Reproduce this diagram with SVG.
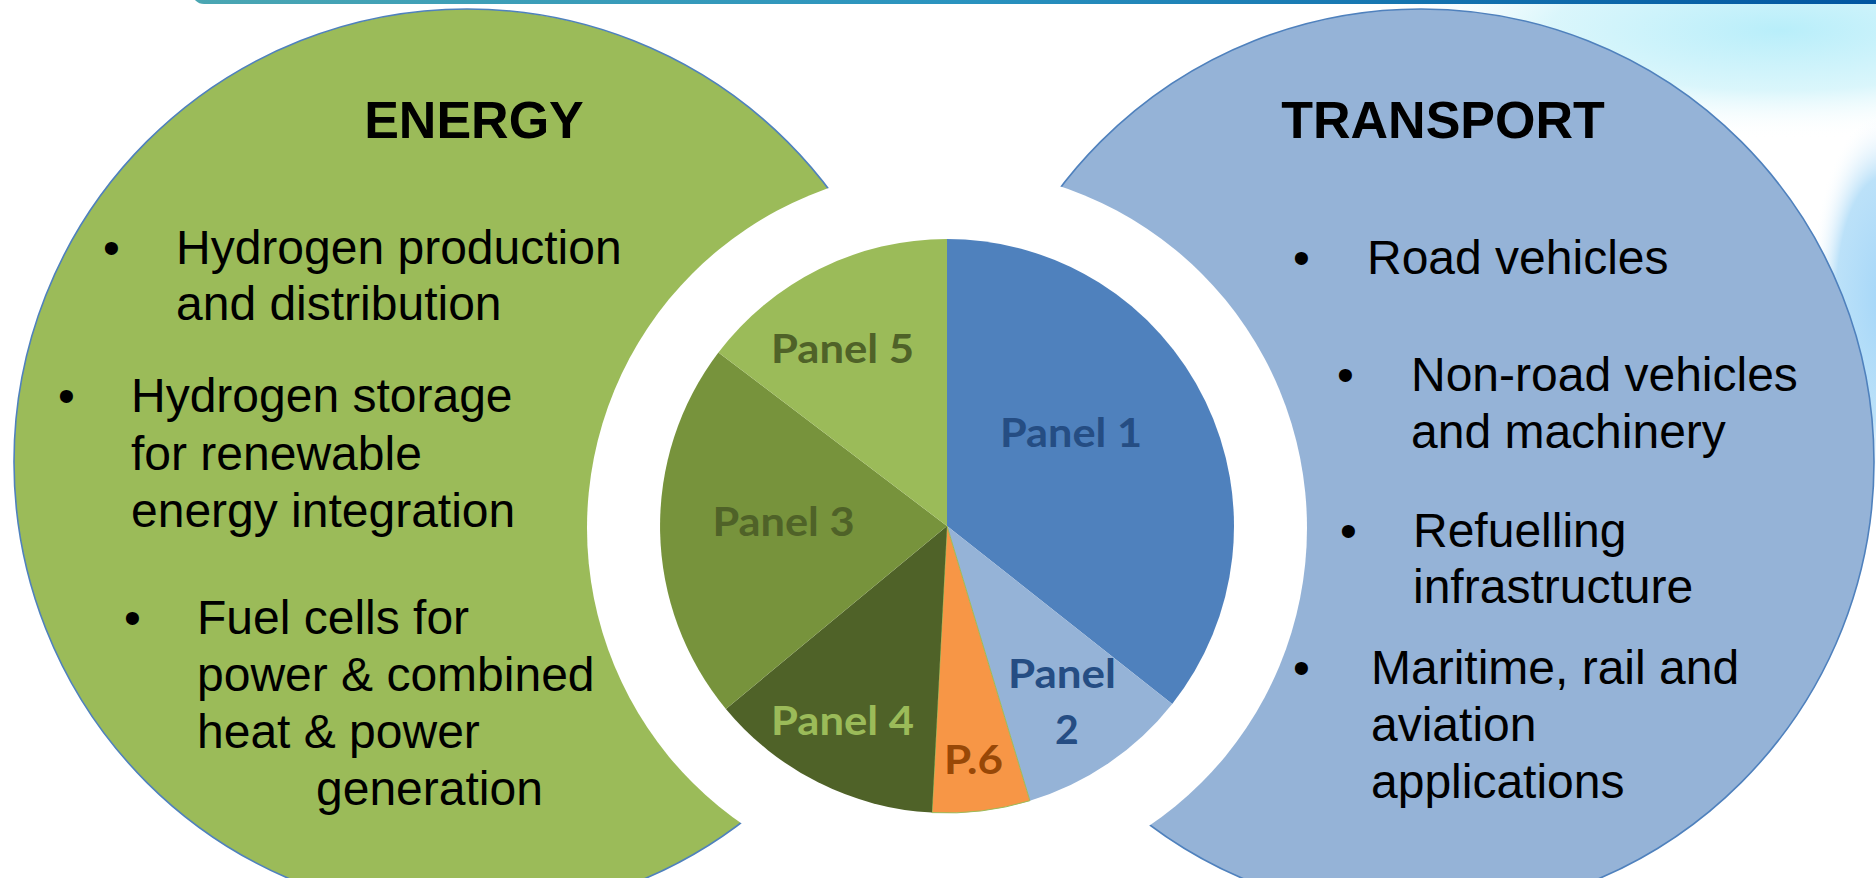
<svg xmlns="http://www.w3.org/2000/svg" width="1876" height="878" viewBox="0 0 1876 878">
<defs>
<linearGradient id="bar" x1="0" y1="0" x2="1" y2="0">
<stop offset="0" stop-color="#4aa6b2"/>
<stop offset="0.45" stop-color="#2a93bf"/>
<stop offset="1" stop-color="#0054a0"/>
</linearGradient>
<radialGradient id="glowTop" cx="0.5" cy="0.5" r="0.5">
<stop offset="0" stop-color="#b8eefa"/>
<stop offset="0.55" stop-color="#d6f5fb" stop-opacity="0.9"/>
<stop offset="1" stop-color="#ffffff" stop-opacity="0"/>
</radialGradient>
<radialGradient id="glowSide" cx="0.5" cy="0.5" r="0.5">
<stop offset="0" stop-color="#a4d6f8"/>
<stop offset="0.65" stop-color="#b4def8" stop-opacity="0.9"/>
<stop offset="1" stop-color="#ffffff" stop-opacity="0"/>
</radialGradient>
<style>
.big{stroke:#4f81bd;stroke-width:1.6}
.title{font-family:"Liberation Sans",Arial,sans-serif;font-weight:bold;font-size:52px;fill:#000;text-anchor:middle}
.item{font-family:"Liberation Sans",Arial,sans-serif;font-size:48px;fill:#000}
.lbl{font-family:Lato,"Open Sans",sans-serif;font-weight:bold;font-size:41px;text-anchor:middle}
</style>
</defs>
<rect width="1876" height="878" fill="#ffffff"/>
<ellipse cx="1780" cy="30" rx="420" ry="110" fill="url(#glowTop)"/>
<ellipse cx="1885" cy="300" rx="75" ry="190" fill="url(#glowSide)"/>
<rect x="192" y="-20" width="1700" height="24" rx="12" fill="url(#bar)"/>

<g id="energy">
<circle class="big" cx="467" cy="462" r="453" fill="#9bbb59"/>
</g>
<g id="transport">
<circle class="big" cx="1421" cy="462" r="453" fill="#95b3d7"/>
</g>
<circle id="ring" cx="947" cy="528" r="360" fill="#ffffff"/>

<g id="energy-text">
<text class="title" x="474" y="138">ENERGY</text>
<text class="item" x="103" y="264">•</text>
<text class="item" x="176" y="264">Hydrogen production</text>
<text class="item" x="176" y="320">and distribution</text>
<text class="item" x="58" y="412">•</text>
<text class="item" x="131" y="412">Hydrogen storage</text>
<text class="item" x="131" y="470">for renewable</text>
<text class="item" x="131" y="527">energy integration</text>
<text class="item" x="124" y="634">•</text>
<text class="item" x="197" y="634">Fuel cells for</text>
<text class="item" x="197" y="691">power &amp; combined</text>
<text class="item" x="197" y="748">heat &amp; power</text>
<text class="item" x="316" y="805">generation</text>
</g>

<g id="transport-text">
<text class="title" x="1443" y="138">TRANSPORT</text>
<text class="item" x="1293" y="274">•</text>
<text class="item" x="1367" y="274">Road vehicles</text>
<text class="item" x="1337" y="391">•</text>
<text class="item" x="1411" y="391">Non-road vehicles</text>
<text class="item" x="1411" y="448">and machinery</text>
<text class="item" x="1340" y="547">•</text>
<text class="item" x="1413" y="547">Refuelling</text>
<text class="item" x="1413" y="603">infrastructure</text>
<text class="item" x="1293" y="684">•</text>
<text class="item" x="1371" y="684">Maritime, rail and</text>
<text class="item" x="1371" y="741">aviation</text>
<text class="item" x="1371" y="798">applications</text>
</g>

<g id="pie">
<g id="panel1">
<path d="M947,526 L947,239 A287,287 0 0 1 1172.2,703.9 Z" fill="#4f81bd"/>
<text class="lbl" x="1071" y="447" textLength="142" lengthAdjust="spacingAndGlyphs" fill="#254d83">Panel 1</text>
</g>
<g id="panel2">
<path d="M947,526 L1172.2,703.9 A287,287 0 0 1 1029.9,800.7 Z" fill="#95b3d7"/>
<text class="lbl" x="1062" y="688" textLength="108" lengthAdjust="spacingAndGlyphs" fill="#254d83">Panel</text>
<text class="lbl" x="1067" y="744" fill="#254d83">2</text>
</g>
<g id="panel6">
<path d="M947,526 L1029.9,800.7 A287,287 0 0 1 932,812.6 Z" fill="#f79646" stroke="#9bbb59" stroke-width="1"/>
<text class="lbl" x="973.5" y="774" textLength="59" lengthAdjust="spacingAndGlyphs" fill="#984807">P.6</text>
</g>
<g id="panel4">
<path d="M947,526 L932,812.6 A287,287 0 0 1 725.9,708.9 Z" fill="#4f6228"/>
<text class="lbl" x="842.5" y="735" textLength="143" lengthAdjust="spacingAndGlyphs" fill="#9bbb59">Panel 4</text>
</g>
<g id="panel3">
<path d="M947,526 L725.9,708.9 A287,287 0 0 1 718.4,352.5 Z" fill="#77933c"/>
<text class="lbl" x="783.5" y="536" textLength="142" lengthAdjust="spacingAndGlyphs" fill="#4f6228">Panel 3</text>
</g>
<g id="panel5">
<path d="M947,526 L718.4,352.5 A287,287 0 0 1 947,239 Z" fill="#9bbb59"/>
<text class="lbl" x="842.5" y="363" textLength="143" lengthAdjust="spacingAndGlyphs" fill="#4f6228">Panel 5</text>
</g>
</g>
<g id="connectors"/>
</svg>
